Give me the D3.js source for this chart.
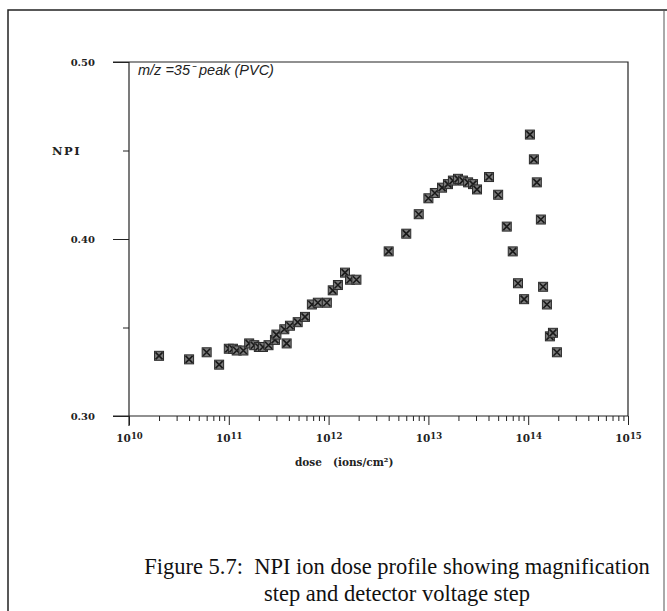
<!DOCTYPE html>
<html>
<head>
<meta charset="utf-8">
<script src="https://cdn.jsdelivr.net/npm/d3@7"></script>
<style>
  body { margin: 0; background: #fff; }
  svg { display: block; }
  .caption { white-space: pre; }
</style>
</head>
<body>
<svg id="chart" width="667" height="611"></svg>
<script>
// dose in ions/cm2
const dose = [
  2.0e10, 4.0e10, 6.0e10, 8.0e10,
  1.0e11, 1.1e11, 1.2e11, 1.4e11, 1.6e11, 1.8e11, 2.0e11, 2.2e11, 2.5e11, 2.9e11, 3.0e11, 3.8e11,
  3.6e11, 4.1e11, 4.9e11, 5.8e11, 6.8e11, 7.8e11, 9.6e11, 1.1e12, 1.24e12, 1.46e12, 1.64e12, 1.9e12,
  4.0e12, 6.0e12, 8.0e12, 1.0e13, 1.16e13, 1.37e13, 1.57e13, 1.76e13, 1.98e13, 2.22e13, 2.5e13, 2.8e13, 3.07e13,
  4.05e13, 5.0e13, 6.1e13, 7.0e13, 7.9e13, 9.1e13,
  1.04e14, 1.14e14, 1.22e14, 1.34e14, 1.41e14, 1.54e14, 1.65e14, 1.77e14, 1.94e14
];
const npi = [
  0.334, 0.332, 0.336, 0.329,
  0.338, 0.338, 0.337, 0.337, 0.341, 0.340, 0.339, 0.339, 0.340, 0.343, 0.346, 0.341,
  0.349, 0.351, 0.353, 0.356, 0.363, 0.364, 0.364, 0.371, 0.374, 0.381, 0.377, 0.377,
  0.393, 0.403, 0.414, 0.423, 0.426, 0.429, 0.431, 0.433, 0.434, 0.433, 0.432, 0.431, 0.428,
  0.435, 0.425, 0.407, 0.393, 0.375, 0.366,
  0.459, 0.445, 0.432, 0.411, 0.373, 0.363, 0.345, 0.347, 0.336
];

const yMajor = [0.30, 0.40, 0.50];
const yMinor = [0.35, 0.45];
const decades = [10, 11, 12, 13, 14, 15];
const yTitle = 'NPI';
const xTitle = ['dose', '(ions/cm²)'];
const note = 'm/z =35⁻ peak (PVC)';
const caption = [
  'Figure 5.7:  NPI ion dose profile showing magnification',
  'step and detector voltage step'
];

const svg = d3.select('#chart');
const plotL = 129, plotR = 628, plotT = 62, plotB = 416;

const x = d3.scaleLog().domain([1e10, 1e15]).range([plotL, plotR]);
const y = d3.scaleLinear().domain([0.30, 0.50]).range([plotB, plotT]);

const axisFont = 'DejaVu Serif';

// outer frame of the figure page
svg.append('path')
  .attr('d', 'M8,611V10H667')
  .attr('fill', 'none').attr('stroke', '#222').attr('stroke-width', 1.5);
svg.append('line')
  .attr('x1', 664).attr('x2', 664).attr('y1', 10).attr('y2', 611)
  .attr('stroke', '#555').attr('stroke-width', 1);

// plot box
svg.append('path')
  .attr('d', `M${plotL - 16},${plotT}H${plotR}V${plotB}`)
  .attr('fill', 'none').attr('stroke', '#222').attr('stroke-width', 1.2);
svg.append('line')
  .attr('x1', plotL).attr('x2', plotL).attr('y1', plotT).attr('y2', plotB + 10)
  .attr('stroke', '#222').attr('stroke-width', 1.2);
svg.append('line')
  .attr('x1', plotL - 16).attr('x2', plotR).attr('y1', plotB).attr('y2', plotB)
  .attr('stroke', '#222').attr('stroke-width', 1.2);

// x axis: minor then major ticks
const minorX = [];
decades.slice(0, -1).forEach(d => {
  for (let k = 2; k <= 9; k++) minorX.push(k * Math.pow(10, d));
});
const majorX = decades.map(d => Math.pow(10, d));

svg.append('g')
  .attr('transform', `translate(0,${plotB})`)
  .call(d3.axisBottom(x).tickValues(minorX).tickSize(5).tickFormat(''))
  .call(g => g.select('.domain').remove())
  .call(g => g.selectAll('.tick line').attr('stroke', '#222'));

svg.append('g')
  .attr('transform', `translate(0,${plotB})`)
  .call(d3.axisBottom(x).tickValues(majorX).tickSize(9).tickPadding(10).tickFormat(() => '10'))
  .call(g => g.select('.domain').remove())
  .call(g => g.selectAll('.tick line').attr('stroke', '#222'))
  .call(g => g.selectAll('.tick text')
    .attr('font-family', axisFont).attr('font-weight', 'bold')
    .attr('font-size', 10.5).attr('fill', '#222')
    .append('tspan').attr('dy', '-0.45em').attr('font-size', 8.5)
    .text(d => Math.round(Math.log10(d))));

// y axis
svg.append('g')
  .attr('transform', `translate(${plotL},0)`)
  .call(d3.axisLeft(y).tickValues(yMinor).tickSize(6).tickFormat(''))
  .call(g => g.select('.domain').remove())
  .call(g => g.selectAll('.tick line').attr('stroke', '#222'));

svg.append('g')
  .attr('transform', `translate(${plotL},0)`)
  .call(d3.axisLeft(y).tickValues(yMajor).tickSize(16).tickPadding(18).tickFormat(d3.format('.2f')))
  .call(g => g.select('.domain').remove())
  .call(g => g.selectAll('.tick line').attr('stroke', '#222'))
  .call(g => g.selectAll('.tick text')
    .attr('font-family', axisFont).attr('font-weight', 'bold')
    .attr('font-size', 10).attr('fill', '#222'));

svg.append('text')
  .attr('x', 52).attr('y', y(0.45) + 4)
  .attr('font-family', axisFont).attr('font-weight', 'bold')
  .attr('font-size', 11.5).attr('letter-spacing', 1.5).attr('fill', '#222')
  .text(yTitle);

svg.append('text')
  .attr('x', 295).attr('y', 466)
  .attr('font-family', axisFont).attr('font-weight', 'bold')
  .attr('font-size', 10.5).attr('fill', '#222')
  .text(xTitle[0]);
svg.append('text')
  .attr('x', 333).attr('y', 466)
  .attr('font-family', axisFont).attr('font-weight', 'bold')
  .attr('font-size', 10.5).attr('fill', '#222')
  .text(xTitle[1]);

// handwritten note
svg.append('text')
  .attr('x', 138).attr('y', 75)
  .attr('font-family', 'Liberation Sans').attr('font-style', 'italic')
  .attr('font-size', 14.5).attr('fill', '#222')
  .text(note);

// markers
const pts = dose.map((d, i) => ({ d, v: npi[i] }));
const m = svg.append('g').selectAll('g')
  .data(pts)
  .join('g')
  .attr('transform', p => `translate(${x(p.d)},${y(p.v)})`);
m.append('rect')
  .attr('x', -4.5).attr('y', -4.5).attr('width', 9).attr('height', 9)
  .attr('fill', '#7a7a7a').attr('stroke', '#2a2a2a').attr('stroke-width', 1);
m.append('path')
  .attr('d', 'M-3.5,-3.5L3.5,3.5M3.5,-3.5L-3.5,3.5')
  .attr('stroke', '#1a1a1a').attr('stroke-width', 1.6);

// caption
svg.selectAll('text.caption')
  .data(caption)
  .join('text')
  .attr('class', 'caption')
  .attr('x', 397).attr('y', (d, i) => 574 + i * 27)
  .attr('text-anchor', 'middle')
  .attr('font-family', 'Liberation Serif')
  .attr('font-size', 22.5).attr('fill', '#111')
  .text(d => d);
</script>
</body>
</html>
